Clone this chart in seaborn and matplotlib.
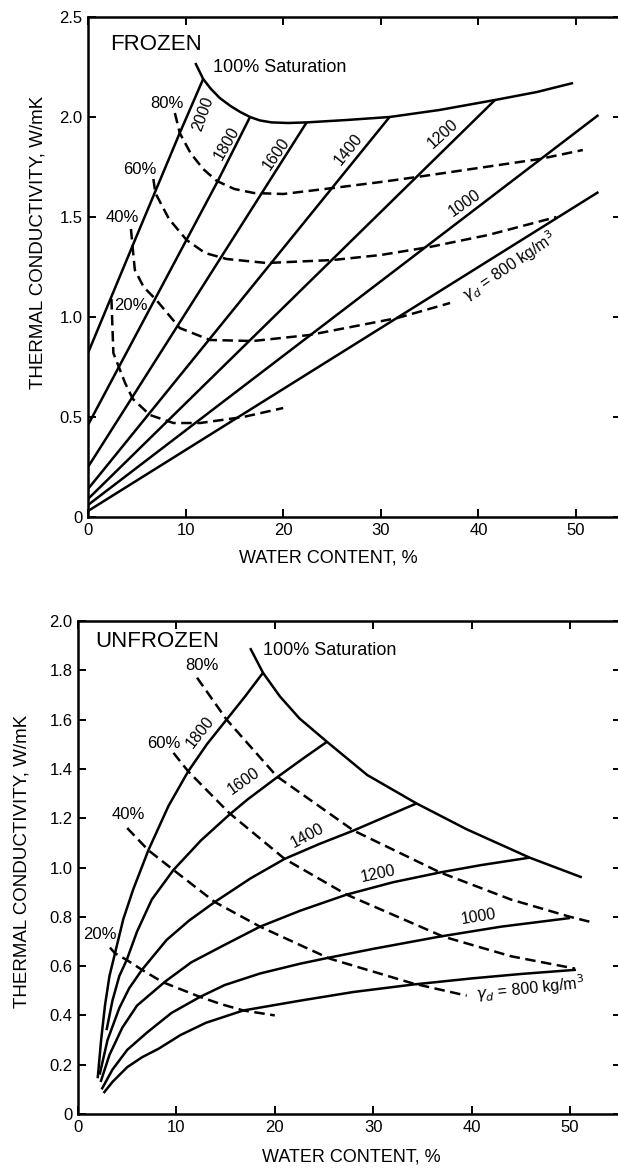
import matplotlib
matplotlib.use("Agg")
import matplotlib.pyplot as plt
import numpy as np
import pandas as pd
import seaborn as sns

# ---------------- FROZEN (top panel) data ----------------
FZ_SAT_X = [11.0, 11.8, 12.6, 13.5, 14.6, 15.6, 16.6, 17.6, 18.8, 20.5, 22.4, 26.5, 30.9, 36.0, 41.7, 46.0, 49.7]
FZ_SAT_Y = [2.27, 2.19, 2.14, 2.095, 2.055, 2.025, 2.0, 1.983, 1.973, 1.97, 1.973, 1.985, 2.0, 2.035, 2.085, 2.125, 2.17]

FZ_D2000_X = [0.0, 4.6, 9.4, 11.8]
FZ_D2000_Y = [0.82, 1.36, 1.92, 2.19]
FZ_D1800_X = [0.0, 13.3, 16.6]
FZ_D1800_Y = [0.46, 1.68, 2.0]
FZ_D1600_X = [0.0, 22.4]
FZ_D1600_Y = [0.25, 1.973]
FZ_D1400_X = [0.0, 30.9]
FZ_D1400_Y = [0.14, 2.0]
FZ_D1200_X = [0.0, 41.7]
FZ_D1200_Y = [0.09, 2.085]
FZ_D1000_X = [0.0, 52.3]
FZ_D1000_Y = [0.06, 2.01]
FZ_D800_X = [0.0, 52.3]
FZ_D800_Y = [0.03, 1.625]

FZ_S80_X = [8.9, 9.4, 10.5, 11.8, 13.2, 15.0, 17.0, 20.0, 25.1, 30.0, 33.7, 40.0, 46.3, 50.7]
FZ_S80_Y = [2.02, 1.92, 1.82, 1.74, 1.68, 1.64, 1.62, 1.615, 1.645, 1.675, 1.70, 1.745, 1.79, 1.835]
FZ_S60_X = [6.7, 6.9, 8.3, 10.1, 12.0, 14.2, 18.3, 25.1, 30.0, 35.0, 41.0, 48.0]
FZ_S60_Y = [1.69, 1.62, 1.49, 1.385, 1.32, 1.29, 1.27, 1.285, 1.31, 1.35, 1.41, 1.50]
FZ_S40_X = [4.4, 4.6, 4.8, 5.7, 7.0, 9.4, 12.5, 16.9, 22.7, 31.7, 37.1]
FZ_S40_Y = [1.44, 1.335, 1.235, 1.15, 1.085, 0.945, 0.885, 0.88, 0.91, 0.995, 1.07]
FZ_S20_X = [2.4, 2.6, 3.8, 4.6, 6.35, 8.75, 11.5, 15.9, 20.0]
FZ_S20_Y = [1.09, 0.82, 0.67, 0.59, 0.51, 0.47, 0.47, 0.50, 0.545]

# ---------------- UNFROZEN (bottom panel) data ----------------
UF_SAT_X = [17.5, 18.8, 20.5, 22.5, 25.3, 29.4, 34.4, 39.5, 45.9, 51.2]
UF_SAT_Y = [1.89, 1.79, 1.695, 1.605, 1.51, 1.375, 1.26, 1.155, 1.04, 0.96]

UF_D1800_X = [2.0, 2.35, 2.74, 3.2, 3.76, 4.6, 5.6, 7.15, 9.2, 11.2, 13.1, 15.1, 17.0, 18.8]
UF_D1800_Y = [0.145, 0.30, 0.44, 0.56, 0.652, 0.79, 0.91, 1.07, 1.25, 1.39, 1.50, 1.60, 1.695, 1.79]
UF_D1600_X = [2.9, 3.5, 4.2, 4.95, 6.0, 7.5, 9.7, 12.5, 15.4, 17.2, 20.2, 22.8, 25.3]
UF_D1600_Y = [0.34, 0.46, 0.56, 0.625, 0.74, 0.87, 0.99, 1.11, 1.215, 1.275, 1.365, 1.44, 1.51]
UF_D1400_X = [2.2, 3.0, 4.2, 5.2, 6.5, 9.0, 11.3, 13.9, 17.5, 21.0, 24.5, 28.0, 31.2, 34.4]
UF_D1400_Y = [0.16, 0.30, 0.43, 0.51, 0.585, 0.706, 0.785, 0.86, 0.955, 1.035, 1.095, 1.15, 1.205, 1.26]
UF_D1200_X = [2.3, 3.2, 4.5, 6.0, 8.85, 11.5, 14.6, 18.5, 22.6, 27.3, 32.0, 36.8, 41.0, 45.9]
UF_D1200_Y = [0.13, 0.24, 0.35, 0.44, 0.537, 0.615, 0.68, 0.76, 0.825, 0.89, 0.94, 0.98, 1.01, 1.04]
UF_D1000_X = [2.4, 3.5, 5.0, 7.0, 9.5, 12.4, 14.9, 18.5, 22.6, 25.6, 30.0, 36.8, 43.0, 50.0]
UF_D1000_Y = [0.10, 0.18, 0.26, 0.33, 0.41, 0.475, 0.523, 0.57, 0.61, 0.635, 0.67, 0.72, 0.76, 0.795]
UF_D800_X = [2.6, 3.5, 5.0, 6.5, 8.2, 10.4, 13.0, 16.8, 22.6, 28.0, 34.0, 40.0, 45.0, 50.6]
UF_D800_Y = [0.085, 0.13, 0.19, 0.23, 0.265, 0.32, 0.37, 0.42, 0.46, 0.495, 0.525, 0.55, 0.568, 0.585]

UF_S80_X = [12.1, 15.1, 20.2, 28.0, 36.8, 44.0, 50.0, 52.0]
UF_S80_Y = [1.77, 1.60, 1.37, 1.15, 0.98, 0.87, 0.80, 0.78]
UF_S60_X = [9.7, 11.2, 15.4, 21.0, 27.3, 37.1, 44.0, 50.5]
UF_S60_Y = [1.465, 1.39, 1.22, 1.035, 0.89, 0.72, 0.64, 0.59]
UF_S40_X = [5.0, 7.15, 9.7, 13.9, 18.5, 25.6, 34.0, 39.5]
UF_S40_Y = [1.16, 1.07, 0.99, 0.86, 0.76, 0.63, 0.53, 0.48]
UF_S20_X = [3.25, 3.76, 4.95, 6.5, 8.6, 12.4, 14.6, 16.8, 20.0]
UF_S20_Y = [0.675, 0.652, 0.625, 0.585, 0.535, 0.475, 0.445, 0.42, 0.40]

X_TICKS = [0, 10, 20, 30, 40, 50]
X_TICKLABELS = ["0", "10", "20", "30", "40", "50"]
FZ_Y_TICKS = [0, 0.5, 1.0, 1.5, 2.0, 2.5]
FZ_Y_TICKLABELS = ["0", "0.5", "1.0", "1.5", "2.0", "2.5"]
UF_Y_TICKS = [0, 0.2, 0.4, 0.6, 0.8, 1.0, 1.2, 1.4, 1.6, 1.8, 2.0]
UF_Y_TICKLABELS = ["0", "0.2", "0.4", "0.6", "0.8", "1.0", "1.2", "1.4", "1.6", "1.8", "2.0"]

XLABEL = "WATER CONTENT, %"
YLABEL = "THERMAL CONDUCTIVITY, W/mK"

# ---------------- style ----------------
sns.set_theme(style="white")
plt.rcParams["font.family"] = ["Liberation Sans", "DejaVu Sans"]
plt.rcParams["mathtext.fontset"] = "dejavusans"

LW = 1.8
DASH = (4.2, 2.2)


def curve(ax, xs, ys, dashed=False):
    df = pd.DataFrame({"x": xs, "y": ys})
    n0 = len(ax.lines)
    sns.lineplot(data=df, x="x", y="y", ax=ax, sort=False, estimator=None,
                 color="black", linewidth=LW, solid_capstyle="butt",
                 solid_joinstyle="round")
    ln = ax.lines[n0]
    if dashed:
        ln.set_dashes(DASH)
        ln.set_dash_capstyle("butt")


def style_axes(ax, xmax, ymax, yticks, yticklabels):
    ax.set_xlim(0, xmax)
    ax.set_ylim(0, ymax)
    ax.set_xticks(X_TICKS, X_TICKLABELS)
    ax.set_yticks(yticks, yticklabels)
    for s in ax.spines.values():
        s.set_visible(True)
        s.set_color("black")
        s.set_linewidth(1.8)
    ax.tick_params(axis="both", which="major", direction="in", length=6, width=1.4,
                   color="black", labelsize=12, labelcolor="black",
                   top=True, right=True, bottom=True, left=True, pad=4)
    ax.set_xlabel("")
    ax.set_ylabel("")
    ax.grid(False)


W, H = 618, 1169
fig = plt.figure(figsize=(W / 100, H / 100), dpi=100)
fig.patch.set_facecolor("white")

# top panel: x0 px=88, 9.76 px/unit ; y0 px=517, 200 px/unit
ax1 = fig.add_axes([88 / W, (H - 517) / H, (621 - 88) / W, 500 / H])
# bottom panel: x0 px=78, 9.84 px/unit ; y0 px=1114, 246.5 px/unit
ax2 = fig.add_axes([78 / W, (H - 1114) / H, (621 - 78) / W, 493 / H])

# ---- top panel curves ----
for xs, ys in [(FZ_SAT_X, FZ_SAT_Y), (FZ_D2000_X, FZ_D2000_Y), (FZ_D1800_X, FZ_D1800_Y),
               (FZ_D1600_X, FZ_D1600_Y), (FZ_D1400_X, FZ_D1400_Y), (FZ_D1200_X, FZ_D1200_Y),
               (FZ_D1000_X, FZ_D1000_Y), (FZ_D800_X, FZ_D800_Y)]:
    curve(ax1, xs, ys)
for xs, ys in [(FZ_S80_X, FZ_S80_Y), (FZ_S60_X, FZ_S60_Y), (FZ_S40_X, FZ_S40_Y), (FZ_S20_X, FZ_S20_Y)]:
    curve(ax1, xs, ys, dashed=True)

style_axes(ax1, (621 - 88) / 9.76, 2.5, FZ_Y_TICKS, FZ_Y_TICKLABELS)

# ---- bottom panel curves ----
for xs, ys in [(UF_SAT_X, UF_SAT_Y), (UF_D1800_X, UF_D1800_Y), (UF_D1600_X, UF_D1600_Y),
               (UF_D1400_X, UF_D1400_Y), (UF_D1200_X, UF_D1200_Y), (UF_D1000_X, UF_D1000_Y),
               (UF_D800_X, UF_D800_Y)]:
    curve(ax2, xs, ys)
for xs, ys in [(UF_S80_X, UF_S80_Y), (UF_S60_X, UF_S60_Y), (UF_S40_X, UF_S40_Y), (UF_S20_X, UF_S20_Y)]:
    curve(ax2, xs, ys, dashed=True)

style_axes(ax2, (621 - 78) / 9.84, 2.0, UF_Y_TICKS, UF_Y_TICKLABELS)

# ---- axis titles ----
for ax, xc, yl_x, yl_y in [(ax1, (328 - 88) / 533, (38 - 88) / 533, 0.55),
                           (ax2, (351 - 78) / 543, (22 - 78) / 543, 0.513)]:
    ax.text(xc, -0.082 if ax is ax1 else -0.087, XLABEL, transform=ax.transAxes,
            ha="center", va="center", fontsize=13, color="black")
    ax.text(yl_x, yl_y, YLABEL, transform=ax.transAxes, rotation=90,
            ha="center", va="center", fontsize=13.5, color="black")


def lab(ax, x, y, s, size=12, rot=0, ha="center"):
    ax.text(x, y, s, fontsize=size, rotation=rot, rotation_mode="anchor",
            ha=ha, va="center", color="black")


# top labels
lab(ax1, 6.97, 2.36, "FROZEN", size=16)
lab(ax1, 12.8, 2.245, "100% Saturation", size=13, ha="left")
lab(ax1, 8.1, 2.065, "80%")
lab(ax1, 5.3, 1.74, "60%")
lab(ax1, 3.5, 1.50, "40%")
lab(ax1, 4.4, 1.06, "20%")
lab(ax1, 11.8, 2.015, "2000", size=11.5, rot=70)
lab(ax1, 14.2, 1.87, "1800", size=11.5, rot=60)
lab(ax1, 19.3, 1.815, "1600", size=11.5, rot=55)
lab(ax1, 26.7, 1.84, "1400", size=11.5, rot=51)
lab(ax1, 36.4, 1.915, "1200", size=11.5, rot=42)
lab(ax1, 38.6, 1.57, "1000", size=11.5, rot=35)
lab(ax1, 43.2, 1.255, r"$\gamma_d$ = 800 kg/m$^3$", size=11.5, rot=34)

# bottom labels
lab(ax2, 8.08, 1.917, "UNFROZEN", size=16)
lab(ax2, 18.8, 1.88, "100% Saturation", size=13, ha="left")
lab(ax2, 12.6, 1.82, "80%")
lab(ax2, 8.7, 1.505, "60%")
lab(ax2, 5.1, 1.217, "40%")
lab(ax2, 2.2, 0.73, "20%")
lab(ax2, 12.4, 1.55, "1800", size=11.5, rot=52)
lab(ax2, 16.8, 1.35, "1600", size=11.5, rot=35)
lab(ax2, 23.3, 1.13, "1400", size=11.5, rot=28)
lab(ax2, 30.5, 0.975, "1200", size=11.5, rot=12)
lab(ax2, 40.7, 0.80, "1000", size=11.5, rot=9)
lab(ax2, 46.0, 0.51, r"$\gamma_d$ = 800 kg/m$^3$", size=11.5, rot=6)

fig.savefig("out.png", dpi=100, facecolor="white")
